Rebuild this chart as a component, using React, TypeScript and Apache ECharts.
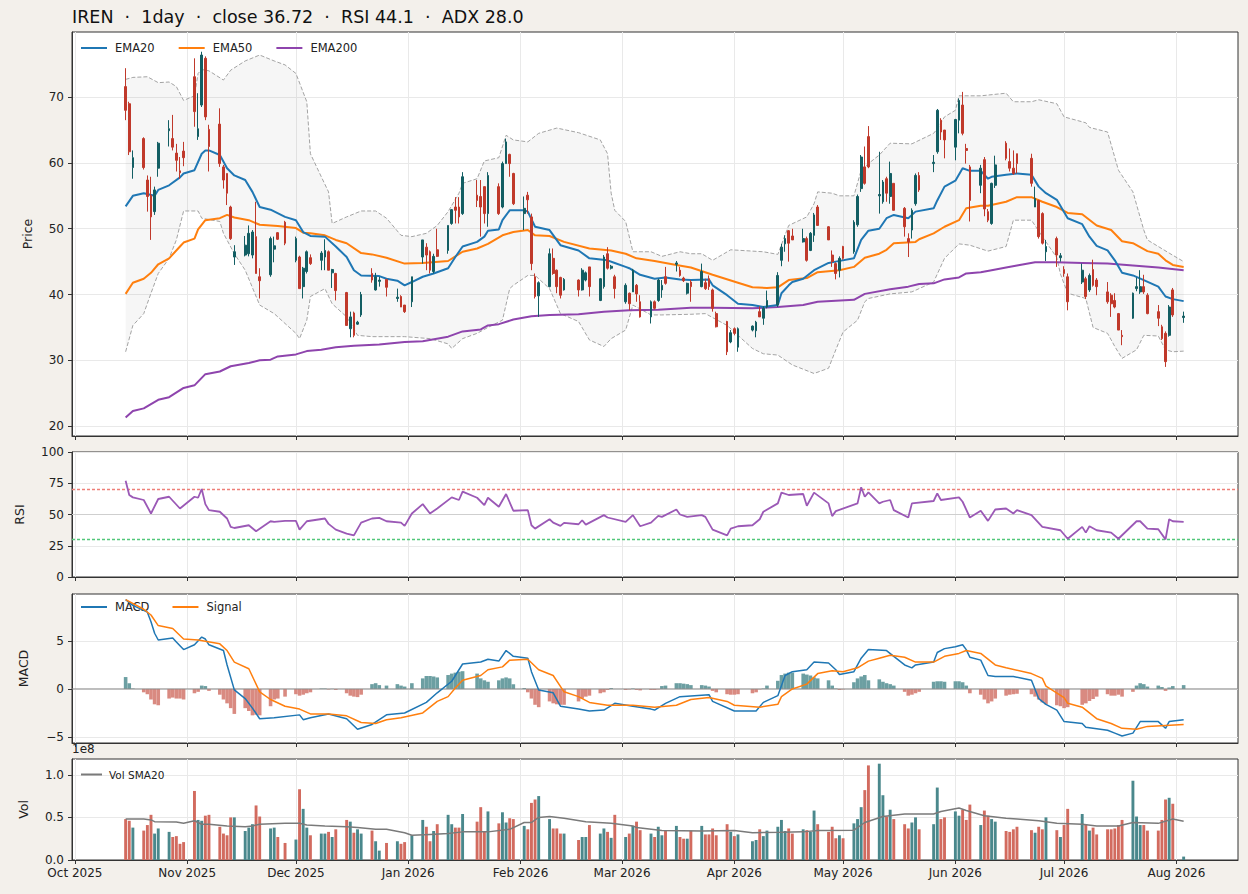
import React, { useEffect, useRef } from 'react';
import * as echarts from 'echarts';

// ---------------- data ----------------
const TITLE = 'IREN  \u00b7  1day  \u00b7  close 36.72  \u00b7  RSI 44.1  \u00b7  ADX 28.0';

const FIRST_DAY = '2025-10-15';
const LAST_DAY = '2026-08-03';
const HOLIDAYS = ['2025-11-27', '2025-12-25', '2026-01-01', '2026-01-19', '2026-02-16', '2026-04-03', '2026-05-25', '2026-06-19', '2026-07-03'];

const MONTH_TICKS = ['2025-10-01', '2025-11-01', '2025-12-01', '2026-01-01', '2026-02-01', '2026-03-01', '2026-04-01', '2026-05-01', '2026-06-01', '2026-07-01', '2026-08-01'];
const MONTH_LABELS = ['Oct 2025', 'Nov 2025', 'Dec 2025', 'Jan 2026', 'Feb 2026', 'Mar 2026', 'Apr 2026', 'May 2026', 'Jun 2026', 'Jul 2026', 'Aug 2026'];

const PRICE_TICKS = [20, 30, 40, 50, 60, 70];
const RSI_TICKS = [0, 25, 50, 75, 100];
const RSI_LEVELS = [70, 50, 30];
const MACD_TICKS = [-5, 0, 5];
const VOL_TICKS = [0, 0.5e8, 1e8];

const OPEN = [
  71.6, 69.0, 59.3, 63.7, 57.4, 55.1, 52.6, 59.2, 64.9, 63.7, 61.5, 58.8, 61.8,
  73.1, 64.0, 68.8, 75.9, 65.1, 65.9, 59.4, 58.4, 53.3, 45.7, 46.0, 46.2, 46.0, 48.8, 42.7, 43.0, 46.9, 49.4, 51.0,
  45.2, 45.7, 41.2, 43.5, 45.6, 45.2, 45.7, 46.5, 43.3, 43.2, 40.3, 34.8, 37.2, 35.5, 36.9, 43.2, 40.7, 42.0, 42.3, 39.4, 39.7, 38.4,
  38.9, 45.7, 47.2, 46.5, 43.5, 46.8, 46.7, 50.8, 53.3, 53.3, 52.3, 55.1, 54.9, 56.4, 52.3, 56.4, 53.3, 59.9, 61.3, 58.4,
  52.3, 55.1, 51.8, 42.7, 39.8, 41.2, 45.5, 43.7, 42.6, 40.7, 42.2, 40.7, 42.2, 44.2, 39.1, 41.2, 46.2, 44.0, 42.7,
  38.9, 40.2, 40.4, 41.4, 38.9, 36.6, 38.9, 39.1, 40.7, 42.7, 44.6, 43.7, 42.5, 40.2, 41.9, 41.2, 41.8, 42.4, 40.7, 37.1, 35.9, 32.8,
  34.8, 32.0, 34.6, 34.5, 37.4, 36.4, 38.1, 38.4, 45.2, 47.7, 49.7, 48.9, 48.0, 48.5, 46.7, 49.0, 53.3, 50.3, 46.0, 44.7, 43.7,
  47.3, 46.5, 50.6, 56.1, 59.4, 64.0, 55.0, 54.1, 57.6, 54.9, 56.9, 53.1, 48.5, 49.8, 53.8, 58.1, 59.9, 61.7, 66.5, 65.0,
  62.4, 66.5, 68.8, 62.2, 59.4, 56.6, 60.5, 52.6, 50.8, 56.6, 63.0, 60.2, 59.2, 61.4, 60.7, 53.3, 54.3, 52.3, 46.5, 48.5, 45.6,
  43.8, 42.7, 41.9, 42.4, 40.7, 43.8, 42.2, 40.4, 39.9, 39.1, 37.1, 33.8, 36.4, 40.9, 40.4, 41.2, 39.9, 37.4, 35.1, 34.1, 33.8, 40.7,
  36.5,
];
const HIGH = [
  74.4, 69.3, 61.9, 63.9, 58.1, 57.9, 56.4, 63.2, 66.5, 67.3, 62.9, 60.9, 63.2,
  75.9, 70.6, 76.9, 76.2, 65.8, 68.3, 59.7, 58.4, 53.5, 47.5, 48.9, 50.5, 49.8, 54.1, 44.0, 48.8, 48.8, 49.5, 51.2,
  48.8, 45.9, 44.2, 46.7, 46.1, 46.6, 48.4, 46.7, 43.9, 43.3, 40.4, 37.4, 37.4, 36.0, 40.4, 44.0, 43.3, 42.7, 42.3, 40.9, 39.9, 38.4,
  42.7, 48.3, 47.8, 46.7, 46.2, 50.0, 50.5, 53.0, 54.8, 54.8, 58.6, 57.4, 57.4, 56.4, 58.6, 56.9, 60.2, 63.7, 61.4, 58.5,
  54.9, 55.6, 52.3, 43.2, 42.0, 47.0, 47.0, 43.8, 42.7, 42.5, 42.3, 44.0, 43.5, 44.2, 42.5, 46.0, 47.2, 44.5, 43.0,
  41.7, 40.3, 43.9, 41.6, 39.9, 39.1, 39.1, 42.4, 42.2, 44.2, 45.1, 44.2, 42.7, 41.8, 42.2, 44.7, 42.4, 42.9, 40.9, 37.4, 36.0, 34.6,
  35.0, 35.0, 35.3, 36.0, 38.2, 38.2, 40.6, 43.4, 47.7, 49.0, 49.8, 50.0, 50.0, 48.8, 49.5, 52.4, 53.6, 50.4, 46.7, 44.9, 45.8,
  47.4, 51.3, 55.2, 61.2, 62.5, 65.6, 61.7, 57.4, 57.9, 60.2, 56.9, 53.3, 49.3, 53.1, 58.4, 58.6, 61.2, 68.2, 66.8, 65.0,
  66.7, 69.8, 70.8, 62.9, 59.7, 59.7, 60.9, 53.0, 57.0, 61.1, 63.3, 62.2, 61.9, 61.4, 61.4, 56.4, 54.4, 52.5, 48.3, 48.8, 46.3,
  44.3, 43.2, 44.7, 42.7, 43.2, 45.3, 42.5, 41.9, 40.2, 40.2, 37.2, 34.6, 40.3, 42.6, 43.7, 43.0, 40.2, 38.4, 35.4, 34.4, 38.4, 41.0,
  37.4,
];
const LOW = [
  66.5, 61.2, 57.6, 59.0, 52.6, 48.3, 52.1, 57.9, 62.5, 61.9, 58.7, 57.6, 59.5,
  65.5, 63.5, 68.5, 66.5, 58.7, 59.4, 56.1, 53.6, 48.3, 44.5, 45.8, 45.8, 45.5, 43.2, 39.4, 42.7, 44.9, 48.3, 47.5,
  44.9, 40.9, 39.4, 43.2, 44.5, 43.7, 43.7, 43.7, 41.0, 39.1, 35.3, 33.5, 33.5, 35.4, 36.6, 41.8, 40.6, 41.2, 39.7, 38.9, 38.1, 37.2,
  38.1, 44.7, 43.7, 43.2, 43.2, 45.7, 46.2, 50.6, 50.8, 50.8, 52.1, 53.3, 48.8, 50.8, 50.3, 52.1, 53.1, 59.9, 57.9, 53.6,
  49.8, 52.3, 43.7, 39.4, 36.6, 41.1, 43.0, 40.2, 39.4, 40.6, 39.7, 40.6, 42.0, 39.7, 39.0, 40.9, 43.8, 43.8, 39.4,
  38.6, 37.6, 40.4, 38.9, 36.5, 35.6, 37.7, 38.9, 39.5, 41.5, 43.5, 42.7, 41.9, 40.0, 38.9, 41.1, 40.7, 40.7, 37.4, 35.0, 30.8, 32.6,
  33.8, 31.3, 34.4, 33.5, 36.6, 35.4, 37.9, 38.1, 44.3, 46.5, 45.0, 48.3, 47.9, 45.0, 46.6, 48.0, 50.5, 48.3, 44.2, 42.3, 42.6,
  45.3, 46.2, 50.3, 55.6, 56.7, 59.2, 52.3, 53.8, 54.1, 53.8, 52.8, 48.8, 45.7, 48.5, 53.5, 55.6, 58.6, 61.4, 63.5, 60.7,
  60.4, 64.5, 64.2, 59.9, 51.1, 55.4, 51.9, 51.0, 50.6, 56.2, 60.4, 58.7, 58.2, 58.4, 56.4, 53.3, 48.5, 47.6, 45.1, 44.2, 45.0,
  42.7, 37.6, 41.6, 39.3, 40.4, 41.2, 39.9, 38.6, 36.6, 37.9, 34.6, 32.3, 36.3, 40.5, 40.1, 40.1, 37.0, 35.2, 33.1, 29.0, 33.6, 36.6,
  35.7,
];
const CLOSE = [
  68.0, 61.7, 60.8, 59.3, 54.9, 51.8, 55.9, 63.0, 65.2, 62.4, 60.4, 58.5, 60.8,
  67.8, 65.2, 76.4, 67.0, 62.5, 59.9, 57.4, 55.4, 48.5, 46.5, 47.5, 49.3, 49.5, 43.2, 42.1, 48.5, 47.4, 48.4, 47.8,
  48.5, 40.9, 44.0, 46.5, 44.7, 46.3, 46.7, 43.7, 43.8, 40.6, 35.3, 36.6, 33.8, 35.8, 40.0, 42.2, 42.7, 42.2, 41.1, 39.6, 38.1, 37.4,
  42.7, 48.3, 46.0, 43.7, 45.8, 45.8, 50.5, 52.9, 52.8, 51.8, 57.9, 54.3, 53.3, 52.3, 58.1, 52.3, 59.9, 63.2, 59.9, 53.8,
  53.1, 54.4, 44.7, 39.7, 41.8, 46.2, 43.2, 41.2, 39.9, 42.3, 40.7, 43.7, 43.3, 41.2, 42.4, 45.7, 44.0, 44.3, 40.9,
  41.4, 38.6, 43.7, 40.1, 36.6, 38.9, 37.9, 42.2, 41.4, 41.7, 44.8, 42.9, 42.1, 41.7, 41.2, 43.5, 40.9, 41.2, 37.9, 35.1, 31.3, 34.2,
  34.1, 34.8, 35.2, 35.8, 36.6, 37.9, 39.1, 42.9, 47.2, 48.5, 47.8, 48.3, 48.5, 45.2, 49.3, 52.1, 50.5, 48.3, 45.0, 43.2, 45.5,
  45.5, 51.0, 54.9, 60.9, 56.9, 59.4, 55.2, 57.1, 55.4, 58.4, 52.8, 50.3, 48.0, 52.8, 58.1, 55.9, 60.1, 68.0, 64.7, 63.5,
  66.6, 69.5, 64.5, 61.9, 54.3, 59.2, 53.0, 51.3, 56.9, 59.7, 60.7, 59.2, 58.4, 59.9, 56.9, 54.6, 48.8, 47.8, 47.3, 46.0, 45.9,
  43.2, 38.9, 43.7, 39.7, 42.9, 41.4, 41.2, 38.9, 38.6, 38.1, 34.6, 33.6, 40.2, 41.2, 41.2, 40.4, 37.1, 36.4, 33.3, 29.8, 38.1, 36.9,
  36.72,
];
// volume in millions of shares
const VOLUME_M = [
  48, 46, 38, 34.5, 41, 53, 31, 37, 33, 27, 28, 19, 21,
  81, 47, 46, 52, 53, 39, 31, 29, 50, 50, 34, 38, 42, 64, 51, 37, 38, 27, 20,
  24, 83, 60, 38, 29, 31, 31, 33, 27, 36, 47, 45, 32, 36, 31, 34.5, 22, 11, 20, 22, 19, 21,
  29, 47, 39, 22, 34, 42, 53, 42, 38, 38, 54, 45, 62, 33, 57, 43, 56, 44, 49, 48,
  40, 36, 67, 71, 75, 48, 37, 37, 31, 31, 23.5, 27, 27, 41, 31, 37, 33, 26, 53,
  27, 31, 40, 45, 35, 31, 27, 39, 29, 34.5, 40, 27, 25, 25, 34.5, 40, 30, 30, 37, 29, 42, 33,
  28, 30, 22, 23.5, 36, 28, 34.5, 39, 47, 34, 37, 31, 36, 35, 33, 58, 42, 33, 39, 25.5, 29,
  25.5, 43, 48, 62, 82, 111, 113, 76, 51, 59, 48, 42, 37, 44, 50, 36, 42, 85, 48, 50,
  57, 52, 59, 47, 65, 41, 58, 52, 48, 45, 34, 33, 36, 39, 35, 32, 39, 36, 50, 35, 27,
  41, 60, 54, 42, 34.5, 38, 30, 36, 36, 37, 41, 47, 93, 51, 41, 41, 34.5, 34.5, 47, 71, 73, 66,
  4,
];
const MACD_HIST = [
  1.24, 0.6, 0.05, -0.35, -0.55, -1.1, -1.6, -1.7, -1.0, -0.9, -1.0, -1.0, -1.1,
  -0.45, -0.3, 0.35, 0.3, -0.2, -0.6, -1.1, -1.5, -2.0, -2.6, -2.0, -2.3, -2.75, -2.7, -2.75, -1.8, -1.1, -1.0, -0.8,
  -0.55, -0.7, -0.6, -0.45, -0.35, 0.05, 0.05, -0.05, 0.02, -0.1, -0.45, -0.7, -0.8, -0.85, -0.6, 0.5, 0.6, 0.4, 0.35, 0.5, 0.35, 0.25,
  0.6, 1.1, 1.35, 1.35, 1.3, 1.2, 1.45, 1.6, 1.7, 1.8, 1.85, 1.6, 1.1, 0.9, 0.75, 0.9, 1.1, 1.2, 1.1, 0.5,
  0.1, -0.35, -1.0, -1.65, -1.9, -1.3, -1.5, -1.6, -1.65, -1.65, -1.3, -1.0, -0.8, -0.7, -0.45, -0.35, -0.1, 0.1, 0.0,
  -0.1, -0.05, 0.05, -0.1, -0.15, -0.1, -0.1, -0.05, 0.3, 0.35, 0.6, 0.6, 0.55, 0.5, 0.4, 0.4, 0.35, 0.25, -0.2, -0.35, -0.55, -0.6,
  -0.6, -0.55, -0.45, -0.35, -0.05, 0.05, 0.35, 0.85, 1.45, 1.6, 1.7, 1.7, 1.6, 1.5, 1.4, 1.2, 1.1, 0.9, 0.35, 0.05, -0.1,
  -0.05, 0.7, 1.1, 1.3, 1.45, 0.9, 1.0, 0.75, 0.6, 0.5, 0.35, -0.3, -0.7, -0.6, -0.45, -0.3, 0.75, 0.8, 0.8, 0.75,
  0.8, 0.8, 0.7, 0.35, -0.45, -0.6, -1.1, -1.5, -1.3, -1.0, -0.7, -0.6, -0.55, -0.5, -0.55, -0.8, -1.1, -1.4, -1.6, -1.7, -1.8,
  -2.0, -1.9, -1.65, -1.5, -1.25, -1.05, -0.8, -0.55, -0.7, -0.7, -0.6, -0.8, -0.3, 0.35, 0.6, 0.5, 0.25, 0.35, 0.2, -0.2, 0.15, 0.3,
  0.4,
];

type Pt = [string, number];

const EMA20: Pt[] = [["2025-10-15",53.4],["2025-10-17",55.0],["2025-10-20",55.4],["2025-10-23",55.0],["2025-10-24",55.9],["2025-10-27",56.6],["2025-10-30",57.8],["2025-10-31",58.4],["2025-11-03",58.9],["2025-11-05",61.4],["2025-11-06",61.9],["2025-11-07",61.9],["2025-11-10",61.2],["2025-11-12",59.2],["2025-11-14",58.1],["2025-11-17",57.4],["2025-11-19",55.6],["2025-11-21",53.3],["2025-11-24",52.9],["2025-11-28",51.8],["2025-12-01",51.3],["2025-12-03",49.5],["2025-12-05",48.9],["2025-12-09",48.8],["2025-12-12",47.3],["2025-12-15",45.7],["2025-12-17",43.7],["2025-12-19",42.9],["2025-12-24",42.8],["2025-12-26",42.4],["2025-12-29",42.1],["2025-12-31",41.4],["2026-01-02",41.9],["2026-01-05",42.7],["2026-01-08",43.2],["2026-01-12",44.0],["2026-01-14",45.7],["2026-01-16",47.3],["2026-01-20",48.0],["2026-01-22",48.8],["2026-01-23",49.7],["2026-01-26",49.9],["2026-01-27",51.3],["2026-01-29",52.8],["2026-02-02",52.8],["2026-02-03",52.6],["2026-02-05",50.3],["2026-02-09",49.8],["2026-02-12",47.5],["2026-02-17",46.7],["2026-02-20",45.5],["2026-02-25",45.2],["2026-02-27",44.8],["2026-03-02",44.2],["2026-03-03",44.0],["2026-03-06",43.0],["2026-03-10",42.4],["2026-03-13",42.6],["2026-03-17",42.3],["2026-03-20",42.2],["2026-03-25",42.3],["2026-03-26",41.4],["2026-03-30",39.9],["2026-04-02",38.6],["2026-04-06",38.4],["2026-04-09",38.1],["2026-04-13",38.4],["2026-04-14",40.2],["2026-04-16",41.4],["2026-04-17",41.9],["2026-04-20",42.4],["2026-04-23",43.7],["2026-04-27",44.8],["2026-04-29",45.0],["2026-05-04",45.5],["2026-05-06",48.3],["2026-05-08",49.7],["2026-05-11",50.0],["2026-05-13",51.6],["2026-05-15",52.1],["2026-05-19",51.6],["2026-05-21",52.6],["2026-05-26",53.1],["2026-05-27",54.3],["2026-05-29",56.4],["2026-06-01",57.3],["2026-06-03",59.2],["2026-06-05",58.8],["2026-06-08",58.8],["2026-06-10",57.6],["2026-06-11",57.9],["2026-06-15",58.2],["2026-06-18",58.4],["2026-06-22",58.2],["2026-06-24",56.4],["2026-06-26",55.4],["2026-06-29",54.4],["2026-07-02",51.6],["2026-07-06",50.7],["2026-07-08",48.8],["2026-07-10",47.4],["2026-07-13",46.7],["2026-07-15",45.2],["2026-07-17",43.3],["2026-07-20",42.9],["2026-07-23",42.2],["2026-07-27",41.2],["2026-07-29",39.7],["2026-07-31",39.3],["2026-08-03",39.0]];

const EMA50: Pt[] = [["2025-10-15",40.1],["2025-10-17",41.8],["2025-10-20",42.4],["2025-10-22",43.3],["2025-10-24",44.6],["2025-10-27",45.5],["2025-10-30",47.3],["2025-10-31",47.9],["2025-11-03",48.5],["2025-11-04",49.9],["2025-11-06",51.3],["2025-11-10",51.6],["2025-11-12",52.1],["2025-11-14",51.7],["2025-11-18",51.3],["2025-11-21",50.6],["2025-11-26",50.4],["2025-12-01",50.1],["2025-12-03",49.4],["2025-12-05",49.3],["2025-12-09",49.0],["2025-12-12",48.3],["2025-12-15",47.8],["2025-12-19",46.3],["2025-12-22",46.1],["2025-12-26",45.6],["2025-12-31",44.7],["2026-01-05",44.8],["2026-01-12",45.1],["2026-01-16",46.5],["2026-01-20",47.0],["2026-01-23",47.7],["2026-01-27",49.0],["2026-01-30",49.5],["2026-02-03",49.8],["2026-02-05",49.0],["2026-02-09",48.9],["2026-02-13",48.0],["2026-02-20",47.0],["2026-02-26",46.7],["2026-03-02",46.2],["2026-03-05",45.5],["2026-03-10",45.1],["2026-03-16",44.5],["2026-03-20",44.1],["2026-03-26",43.0],["2026-04-02",41.8],["2026-04-06",41.1],["2026-04-10",41.0],["2026-04-13",41.1],["2026-04-16",42.2],["2026-04-21",42.5],["2026-04-24",43.4],["2026-04-30",43.7],["2026-05-04",44.2],["2026-05-07",45.6],["2026-05-11",46.2],["2026-05-13",46.8],["2026-05-15",47.8],["2026-05-21",48.0],["2026-05-22",48.4],["2026-05-26",49.3],["2026-05-29",50.3],["2026-06-02",51.3],["2026-06-04",53.1],["2026-06-08",53.5],["2026-06-10",53.5],["2026-06-15",54.1],["2026-06-18",54.8],["2026-06-22",54.8],["2026-06-25",54.1],["2026-06-29",53.3],["2026-07-02",52.4],["2026-07-06",52.2],["2026-07-10",50.5],["2026-07-14",49.8],["2026-07-17",48.1],["2026-07-20",47.8],["2026-07-24",46.6],["2026-07-27",46.2],["2026-07-29",45.2],["2026-07-31",44.5],["2026-08-03",44.2]];

const EMA200: Pt[] = [["2025-10-15",21.3],["2025-10-17",22.3],["2025-10-20",22.7],["2025-10-24",24.0],["2025-10-27",24.4],["2025-10-31",25.8],["2025-11-03",26.2],["2025-11-06",27.9],["2025-11-10",28.3],["2025-11-13",29.1],["2025-11-18",29.6],["2025-11-21",30.0],["2025-11-24",30.1],["2025-11-26",30.6],["2025-12-01",30.9],["2025-12-04",31.4],["2025-12-08",31.6],["2025-12-12",32.0],["2025-12-17",32.2],["2025-12-24",32.4],["2025-12-31",32.8],["2026-01-05",32.9],["2026-01-12",33.6],["2026-01-16",34.4],["2026-01-21",34.7],["2026-01-23",35.3],["2026-01-26",35.5],["2026-01-30",36.2],["2026-02-04",36.7],["2026-02-09",36.9],["2026-02-17",37.0],["2026-02-24",37.4],["2026-03-03",37.6],["2026-03-11",37.7],["2026-03-20",38.0],["2026-03-26",38.0],["2026-04-06",37.9],["2026-04-13",38.1],["2026-04-20",38.4],["2026-04-24",38.9],["2026-05-04",39.2],["2026-05-07",40.1],["2026-05-14",40.8],["2026-05-19",41.2],["2026-05-22",41.6],["2026-05-26",41.7],["2026-05-29",42.3],["2026-06-02",42.6],["2026-06-04",43.2],["2026-06-08",43.4],["2026-06-11",43.7],["2026-06-15",44.1],["2026-06-18",44.4],["2026-06-23",44.9],["2026-06-29",44.9],["2026-07-06",44.8],["2026-07-13",44.7],["2026-07-20",44.4],["2026-07-27",44.1],["2026-08-03",43.7]];

const BB_UPPER: Pt[] = [["2025-10-15",72.7],["2025-10-17",73.0],["2025-10-21",73.1],["2025-10-24",72.2],["2025-10-27",72.3],["2025-10-29",71.6],["2025-10-31",69.5],["2025-11-03",70.2],["2025-11-04",73.6],["2025-11-05",74.2],["2025-11-07",74.0],["2025-11-11",72.6],["2025-11-13",74.1],["2025-11-17",75.5],["2025-11-21",76.4],["2025-11-25",75.5],["2025-11-28",74.9],["2025-12-01",73.6],["2025-12-04",69.3],["2025-12-05",61.4],["2025-12-08",57.9],["2025-12-10",55.6],["2025-12-11",50.8],["2025-12-15",51.8],["2025-12-19",52.7],["2025-12-23",52.7],["2025-12-26",51.6],["2025-12-30",49.0],["2026-01-02",48.8],["2026-01-06",49.3],["2026-01-09",50.5],["2026-01-12",52.6],["2026-01-15",55.4],["2026-01-16",56.9],["2026-01-20",57.6],["2026-01-22",60.3],["2026-01-26",60.8],["2026-01-28",64.2],["2026-01-30",63.5],["2026-02-03",63.2],["2026-02-06",64.5],["2026-02-11",65.3],["2026-02-17",64.6],["2026-02-23",63.5],["2026-02-25",61.4],["2026-02-26",55.4],["2026-02-27",52.8],["2026-03-02",51.1],["2026-03-04",46.5],["2026-03-09",46.5],["2026-03-12",45.8],["2026-03-17",46.5],["2026-03-20",46.2],["2026-03-23",46.2],["2026-03-26",45.2],["2026-03-31",46.8],["2026-04-09",46.5],["2026-04-13",46.1],["2026-04-16",50.5],["2026-04-21",51.8],["2026-04-23",53.8],["2026-04-24",55.6],["2026-04-28",55.4],["2026-04-30",55.0],["2026-05-04",55.0],["2026-05-06",58.9],["2026-05-08",59.9],["2026-05-11",61.2],["2026-05-14",63.0],["2026-05-20",62.9],["2026-05-26",64.5],["2026-05-27",65.2],["2026-05-29",67.0],["2026-06-01",68.0],["2026-06-02",70.2],["2026-06-08",70.2],["2026-06-15",70.6],["2026-06-17",69.3],["2026-06-22",69.3],["2026-06-24",69.6],["2026-06-29",69.0],["2026-07-01",67.0],["2026-07-07",66.1],["2026-07-08",65.4],["2026-07-13",64.7],["2026-07-16",58.9],["2026-07-20",55.6],["2026-07-23",49.8],["2026-07-24",48.3],["2026-07-27",47.3],["2026-07-30",46.3],["2026-08-03",45.0]];

const BB_LOWER: Pt[] = [["2025-10-15",31.3],["2025-10-17",35.3],["2025-10-20",37.1],["2025-10-22",40.2],["2025-10-24",43.2],["2025-10-27",45.5],["2025-10-29",48.3],["2025-10-31",52.7],["2025-11-04",52.7],["2025-11-05",51.6],["2025-11-10",51.1],["2025-11-11",49.3],["2025-11-14",46.2],["2025-11-17",43.7],["2025-11-21",38.4],["2025-11-25",37.1],["2025-11-28",35.6],["2025-12-01",34.1],["2025-12-02",33.3],["2025-12-04",36.1],["2025-12-05",39.7],["2025-12-09",40.9],["2025-12-11",38.6],["2025-12-15",36.6],["2025-12-18",33.8],["2025-12-22",33.6],["2025-12-31",33.6],["2026-01-07",33.3],["2026-01-12",32.5],["2026-01-13",31.8],["2026-01-16",33.3],["2026-01-20",34.1],["2026-01-23",35.0],["2026-01-27",36.1],["2026-01-29",40.9],["2026-01-30",41.4],["2026-02-03",42.9],["2026-02-05",42.9],["2026-02-09",40.9],["2026-02-12",37.1],["2026-02-17",35.9],["2026-02-20",33.1],["2026-02-24",32.1],["2026-02-26",33.3],["2026-03-02",34.6],["2026-03-04",38.4],["2026-03-09",36.9],["2026-03-12",36.9],["2026-03-20",37.0],["2026-03-24",37.1],["2026-03-30",35.3],["2026-04-06",31.8],["2026-04-09",31.0],["2026-04-13",30.8],["2026-04-17",29.3],["2026-04-23",28.0],["2026-04-27",28.8],["2026-04-29",31.6],["2026-05-01",34.3],["2026-05-05",36.1],["2026-05-07",38.9],["2026-05-08",39.4],["2026-05-14",40.1],["2026-05-20",40.4],["2026-05-26",41.9],["2026-05-29",45.5],["2026-06-02",47.7],["2026-06-05",47.5],["2026-06-10",46.6],["2026-06-15",47.3],["2026-06-17",51.3],["2026-06-22",51.3],["2026-06-25",48.8],["2026-06-29",45.6],["2026-06-30",43.1],["2026-07-02",40.2],["2026-07-07",39.4],["2026-07-09",35.0],["2026-07-13",34.1],["2026-07-15",32.1],["2026-07-17",30.3],["2026-07-21",31.6],["2026-07-23",33.8],["2026-07-27",33.7],["2026-07-29",31.6],["2026-07-31",31.3],["2026-08-03",31.4]];

const RSI: Pt[] = [["2025-10-15",77],["2025-10-16",65.6],["2025-10-17",63.7],["2025-10-20",61.6],["2025-10-22",50.8],["2025-10-24",62.4],["2025-10-27",64.2],["2025-10-30",54.8],["2025-11-03",64.2],["2025-11-04",63.4],["2025-11-05",70.4],["2025-11-06",58.3],["2025-11-07",53.5],["2025-11-10",52.2],["2025-11-12",46.8],["2025-11-13",40.1],["2025-11-14",39.2],["2025-11-18",41.4],["2025-11-20",36.6],["2025-11-24",44.6],["2025-11-25",44.1],["2025-11-28",44.9],["2025-12-01",44.9],["2025-12-02",37.9],["2025-12-04",44.6],["2025-12-09",46.8],["2025-12-10",42.5],["2025-12-12",37.9],["2025-12-15",34.7],["2025-12-17",33.3],["2025-12-19",43.5],["2025-12-22",46.8],["2025-12-24",47.3],["2025-12-26",44.6],["2025-12-30",43.5],["2025-12-31",40.9],["2026-01-02",50.8],["2026-01-05",58.3],["2026-01-07",50.8],["2026-01-09",54.8],["2026-01-13",63.7],["2026-01-15",61.6],["2026-01-16",68.3],["2026-01-20",63.4],["2026-01-22",57.5],["2026-01-23",63.4],["2026-01-26",56.2],["2026-01-28",66.4],["2026-01-30",53.0],["2026-02-03",53.5],["2026-02-04",41.4],["2026-02-05",38.7],["2026-02-09",46.2],["2026-02-10",43.5],["2026-02-12",40.9],["2026-02-13",43.3],["2026-02-17",42.2],["2026-02-18",45.4],["2026-02-19",41.9],["2026-02-24",49.5],["2026-02-25",47.6],["2026-03-02",44.1],["2026-03-04",49.5],["2026-03-06",40.6],["2026-03-09",43.5],["2026-03-11",48.9],["2026-03-12",48.1],["2026-03-16",54.0],["2026-03-17",50.0],["2026-03-19",48.1],["2026-03-23",49.5],["2026-03-24",48.1],["2026-03-26",37.9],["2026-03-30",33.3],["2026-03-31",38.7],["2026-04-02",40.6],["2026-04-06",41.4],["2026-04-08",46.2],["2026-04-09",52.2],["2026-04-13",58.9],["2026-04-14",67.5],["2026-04-16",65.6],["2026-04-20",66.4],["2026-04-21",57.0],["2026-04-23",67.5],["2026-04-27",58.9],["2026-04-28",48.7],["2026-04-29",52.7],["2026-05-05",58.9],["2026-05-06",71.8],["2026-05-07",64.2],["2026-05-08",67.7],["2026-05-11",58.9],["2026-05-12",60.2],["2026-05-14",61.6],["2026-05-15",53.5],["2026-05-19",47.6],["2026-05-20",58.9],["2026-05-26",60.8],["2026-05-27",66.9],["2026-05-28",61.6],["2026-06-02",63.7],["2026-06-03",60.2],["2026-06-05",47.6],["2026-06-08",53.0],["2026-06-10",44.9],["2026-06-12",54.0],["2026-06-15",54.8],["2026-06-17",50.8],["2026-06-18",53.5],["2026-06-22",49.5],["2026-06-25",40.1],["2026-06-30",37.4],["2026-07-02",30.6],["2026-07-06",40.1],["2026-07-07",35.5],["2026-07-08",40.6],["2026-07-10",37.4],["2026-07-14",35.5],["2026-07-16",30.6],["2026-07-21",44.6],["2026-07-22",44.6],["2026-07-24",38.7],["2026-07-27",38.2],["2026-07-29",30.1],["2026-07-30",46.2],["2026-07-31",44.6],["2026-08-03",44.1]];

const MACD: Pt[] = [["2025-10-15",9.3],["2025-10-17",8.7],["2025-10-21",8.0],["2025-10-22",7.0],["2025-10-23",5.8],["2025-10-24",5.1],["2025-10-28",5.3],["2025-10-29",4.9],["2025-10-31",4.1],["2025-11-03",4.6],["2025-11-05",5.4],["2025-11-06",5.2],["2025-11-07",4.6],["2025-11-11",4.0],["2025-11-12",2.5],["2025-11-14",-0.1],["2025-11-17",-1.0],["2025-11-19",-2.0],["2025-11-21",-3.1],["2025-11-25",-3.0],["2025-12-02",-2.7],["2025-12-03",-3.2],["2025-12-05",-3.0],["2025-12-10",-2.6],["2025-12-15",-3.1],["2025-12-18",-4.2],["2025-12-22",-3.7],["2025-12-26",-2.7],["2025-12-31",-2.5],["2026-01-06",-1.4],["2026-01-09",-0.4],["2026-01-13",0.8],["2026-01-16",2.6],["2026-01-21",2.8],["2026-01-23",3.1],["2026-01-26",2.9],["2026-01-28",4.0],["2026-01-30",3.4],["2026-02-03",3.2],["2026-02-04",1.8],["2026-02-06",-0.1],["2026-02-10",-0.4],["2026-02-12",-1.8],["2026-02-17",-2.1],["2026-02-20",-2.3],["2026-02-24",-2.2],["2026-02-27",-1.5],["2026-03-04",-1.8],["2026-03-09",-2.1],["2026-03-10",-2.2],["2026-03-13",-1.5],["2026-03-17",-0.8],["2026-03-25",-0.6],["2026-03-26",-1.3],["2026-04-01",-2.3],["2026-04-07",-2.3],["2026-04-09",-1.4],["2026-04-13",-0.7],["2026-04-15",1.4],["2026-04-17",1.8],["2026-04-21",2.0],["2026-04-23",2.8],["2026-04-27",2.7],["2026-04-29",2.0],["2026-04-30",1.5],["2026-05-04",1.8],["2026-05-06",3.2],["2026-05-08",4.1],["2026-05-13",4.0],["2026-05-15",3.4],["2026-05-18",2.5],["2026-05-20",2.2],["2026-05-21",2.5],["2026-05-26",2.8],["2026-05-27",3.8],["2026-05-29",4.2],["2026-06-01",4.4],["2026-06-03",4.6],["2026-06-04",4.1],["2026-06-05",3.3],["2026-06-08",3.0],["2026-06-10",1.4],["2026-06-12",1.3],["2026-06-17",1.3],["2026-06-22",0.9],["2026-06-24",-1.0],["2026-06-26",-1.6],["2026-06-29",-2.2],["2026-07-01",-3.4],["2026-07-06",-3.6],["2026-07-07",-4.0],["2026-07-13",-4.3],["2026-07-15",-4.6],["2026-07-17",-4.9],["2026-07-20",-4.6],["2026-07-22",-3.4],["2026-07-27",-3.4],["2026-07-29",-4.1],["2026-07-30",-3.4],["2026-08-03",-3.2]];

const SIGNAL: Pt[] = [["2025-10-15",9.3],["2025-10-20",8.3],["2025-10-22",7.7],["2025-10-24",6.6],["2025-10-28",6.3],["2025-10-31",5.2],["2025-11-04",5.1],["2025-11-10",4.7],["2025-11-12",4.0],["2025-11-14",2.8],["2025-11-18",2.1],["2025-11-21",-0.3],["2025-11-24",-1.1],["2025-11-28",-1.8],["2025-12-02",-2.1],["2025-12-05",-2.6],["2025-12-10",-2.6],["2025-12-15",-2.8],["2025-12-19",-3.5],["2025-12-23",-3.6],["2025-12-26",-3.2],["2025-12-30",-3.0],["2026-01-05",-2.5],["2026-01-09",-1.3],["2026-01-12",-0.8],["2026-01-14",0.1],["2026-01-16",0.9],["2026-01-21",1.4],["2026-01-23",2.0],["2026-01-27",2.3],["2026-01-29",3.0],["2026-02-03",3.1],["2026-02-06",2.0],["2026-02-10",1.4],["2026-02-13",-0.3],["2026-02-17",-0.8],["2026-02-20",-1.4],["2026-02-25",-1.7],["2026-03-04",-1.7],["2026-03-10",-1.9],["2026-03-16",-1.7],["2026-03-20",-1.1],["2026-03-25",-0.9],["2026-03-30",-1.3],["2026-04-01",-1.7],["2026-04-08",-1.9],["2026-04-13",-1.6],["2026-04-14",-0.8],["2026-04-17",0.0],["2026-04-21",0.5],["2026-04-24",1.6],["2026-04-28",1.9],["2026-05-01",1.8],["2026-05-05",2.2],["2026-05-08",2.9],["2026-05-11",3.2],["2026-05-14",3.5],["2026-05-18",3.3],["2026-05-21",2.8],["2026-05-26",2.8],["2026-05-29",3.4],["2026-06-02",3.7],["2026-06-04",4.0],["2026-06-08",3.7],["2026-06-12",2.5],["2026-06-15",2.2],["2026-06-22",1.6],["2026-06-25",1.1],["2026-06-26",0.3],["2026-07-01",-0.9],["2026-07-02",-1.5],["2026-07-06",-1.9],["2026-07-10",-3.1],["2026-07-14",-3.6],["2026-07-17",-4.1],["2026-07-21",-4.2],["2026-07-24",-3.9],["2026-07-29",-3.8],["2026-08-03",-3.7]];

// volume 20-day SMA in millions
const VOL_SMA20_M: Pt[] = [["2025-10-15",48],["2025-10-20",48],["2025-10-22",47],["2025-10-23",45],["2025-10-29",44.5],["2025-10-31",43],["2025-11-03",46],["2025-11-05",42],["2025-11-07",42],["2025-11-12",40],["2025-11-17",39],["2025-11-19",40],["2025-11-21",42],["2025-11-28",43],["2025-12-02",43],["2025-12-04",41],["2025-12-09",40],["2025-12-15",39],["2025-12-18",38],["2025-12-23",36],["2025-12-26",36],["2025-12-31",32],["2026-01-02",29],["2026-01-07",30],["2026-01-12",31],["2026-01-16",33],["2026-01-23",33],["2026-01-29",36],["2026-02-02",44],["2026-02-04",44],["2026-02-06",50],["2026-02-09",51],["2026-02-13",49],["2026-02-19",45],["2026-02-26",43],["2026-03-04",40],["2026-03-05",38],["2026-03-12",34.5],["2026-03-23",34],["2026-04-01",34.5],["2026-04-06",32],["2026-04-14",32.5],["2026-04-20",33],["2026-04-24",34.5],["2026-05-04",35],["2026-05-07",44],["2026-05-12",51],["2026-05-18",54],["2026-05-26",54],["2026-05-28",57],["2026-06-02",61],["2026-06-04",58],["2026-06-09",52],["2026-06-15",49],["2026-06-18",48],["2026-06-24",46],["2026-06-29",43],["2026-07-06",42],["2026-07-10",40],["2026-07-16",40],["2026-07-20",44],["2026-07-27",43],["2026-07-31",48],["2026-08-03",45.5]];

// ---------------- helpers ----------------
const DAY_MS = 86400000;
const EPOCH = Date.UTC(2025, 9, 1);
const dayNum = (s: string): number => {
  const [y, m, d] = s.split('-').map(Number);
  return Math.round((Date.UTC(y, m - 1, d) - EPOCH) / DAY_MS);
};
function tradingDays(start: string, end: string, holidays: string[]): string[] {
  const out: string[] = [];
  let t = EPOCH + dayNum(start) * DAY_MS;
  const tEnd = EPOCH + dayNum(end) * DAY_MS;
  while (t <= tEnd) {
    const dt = new Date(t);
    const wd = dt.getUTCDay();
    const iso = dt.toISOString().slice(0, 10);
    if (wd !== 0 && wd !== 6 && holidays.indexOf(iso) < 0) out.push(iso);
    t += DAY_MS;
  }
  return out;
}
const toXY = (arr: Pt[], k = 1) => arr.map(([s, v]) => [dayNum(s), v * k]);

const UP = '#135e63';
const DOWN = '#c0392b';
const VOL_UP = '#4a888c';
const VOL_DOWN = '#d26b5f';
const HIST_UP = '#6c9fa2';
const HIST_DOWN = '#d98a81';
const FONT = 'DejaVu Sans';
const GRID_LINE = '#e9e9e9';
const AXIS_C = '#333333';
const X_MIN = -0.8;
const X_MAX = 321.0;

function buildOption() {
  const dates = tradingDays(FIRST_DAY, LAST_DAY, HOLIDAYS);
  const xs = dates.map(dayNum);
  const monthVals = MONTH_TICKS.map(dayNum);

  const candles = xs.map((x, i) => [x, OPEN[i], CLOSE[i], LOW[i], HIGH[i]]);
  const volumes = xs.map((x, i) => ({
    value: [x, VOLUME_M[i] * 1e6],
    itemStyle: { color: CLOSE[i] >= OPEN[i] ? VOL_UP : VOL_DOWN },
  }));
  const hist = xs.map((x, i) => ({
    value: [x, MACD_HIST[i]],
    itemStyle: { color: MACD_HIST[i] >= 0 ? HIST_UP : HIST_DOWN },
  }));
  const upperXY = toXY(BB_UPPER);
  const lowerXY = toXY(BB_LOWER);

  const grids = [
    { top: 32, height: 404 },
    { top: 452, height: 125 },
    { top: 594, height: 149 },
    { top: 759, height: 101 },
  ].map((g) => ({
    left: 72, width: 1166, top: g.top, height: g.height,
    show: true, backgroundColor: '#ffffff', borderColor: AXIS_C, borderWidth: 1,
  }));

  const xAxes = [0, 1, 2, 3].map((i) => ({
    type: 'value', gridIndex: i, min: X_MIN, max: X_MAX,
    axisLine: { show: true, onZero: false, lineStyle: { color: AXIS_C, width: 1 } },
    axisTick: { show: true, customValues: monthVals, length: 4, lineStyle: { color: AXIS_C } },
    axisLabel: {
      show: i === 3, customValues: monthVals, margin: 7, fontSize: 12, color: '#222', fontFamily: FONT,
      formatter: (v: number) => {
        const k = monthVals.indexOf(Math.round(v));
        return k >= 0 ? MONTH_LABELS[k] : '';
      },
    },
    splitLine: { show: true, lineStyle: { color: GRID_LINE, width: 1 } },
  }));

  const yBase = (i: number, min: number, max: number, ticks: number[], name: string, gap: number, fmt: (v: number) => string) => ({
    type: 'value', gridIndex: i, min, max,
    name, nameLocation: 'middle', nameGap: gap,
    nameTextStyle: { fontSize: 12.5, color: '#222', fontFamily: FONT },
    axisLine: { show: true, onZero: false, lineStyle: { color: AXIS_C, width: 1 } },
    axisTick: { show: true, customValues: ticks, length: 4, lineStyle: { color: AXIS_C } },
    axisLabel: { customValues: ticks, margin: 8, fontSize: 12, color: '#222', fontFamily: FONT, formatter: fmt },
    splitLine: { show: true, lineStyle: { color: GRID_LINE, width: 1 } },
  });
  const minusFmt = (v: number) => (v < 0 ? '\u2212' + Math.abs(v) : String(v));
  const yAxes = [
    yBase(0, 18.5, 79.9, PRICE_TICKS, 'Price', 38, (v) => String(v)),
    yBase(1, 0, 100, RSI_TICKS, 'RSI', 46, (v) => String(v)),
    yBase(2, -5.63, 9.89, MACD_TICKS, 'MACD', 42, minusFmt),
    yBase(3, 0, 1.185e8, VOL_TICKS, 'Vol', 42, (v) => (v / 1e8).toFixed(1)),
  ];

  const line = (name: string, data: number[][], color: string, width: number, xi: number, extra: any = {}) => ({
    type: 'line', name, xAxisIndex: xi, yAxisIndex: xi, data,
    showSymbol: false, symbol: 'none', smooth: false, silent: true,
    lineStyle: { color, width }, itemStyle: { color }, z: 4,
    ...extra,
  });
  const hLine = (name: string, xi: number, y: number, color: string, type: any, width: number, z: number) =>
    line(name, [[X_MIN, y], [X_MAX, y]], color, width, xi, { lineStyle: { color, width, type }, z });

  const legendCommon = {
    icon: 'rect', itemHeight: 2, padding: 0, selectedMode: false,
    textStyle: { fontSize: 11.5, color: '#222', fontFamily: FONT, padding: [0, 0, 0, 3] },
  };

  return {
    animation: false,
    backgroundColor: '#f3f0eb',
    textStyle: { fontFamily: FONT },
    grid: grids,
    xAxis: xAxes,
    yAxis: yAxes,
    legend: [
      { ...legendCommon, data: ['EMA20', 'EMA50', 'EMA200'], left: 81, top: 42, itemWidth: 26, itemGap: 24 },
      { ...legendCommon, data: ['MACD', 'Signal'], left: 81, top: 601, itemWidth: 26, itemGap: 23 },
      { ...legendCommon, data: ['Vol SMA20'], left: 81, top: 769, itemWidth: 21, textStyle: { fontSize: 10.5, color: '#222', fontFamily: FONT, padding: [0, 0, 0, 2] } },
    ],
    graphic: [
      { type: 'text', x: 72, y: 17, style: { text: TITLE, fontSize: 17.5, fontFamily: FONT, fill: '#111', align: 'left', verticalAlign: 'middle' } },
      { type: 'text', x: 72, y: 749, style: { text: '1e8', fontSize: 12, fontFamily: FONT, fill: '#222', align: 'left', verticalAlign: 'middle' } },
    ],
    series: [
      {
        type: 'custom', name: 'BB fill', xAxisIndex: 0, yAxisIndex: 0, silent: true, z: 1,
        data: [[upperXY[0][0], upperXY[0][1]]],
        renderItem: (_p: any, api: any) => {
          const pts = upperXY.map((p) => api.coord(p)).concat(lowerXY.slice().reverse().map((p) => api.coord(p)));
          return { type: 'polygon', shape: { points: pts }, style: { fill: 'rgba(128,128,128,0.07)', stroke: 'none' } };
        },
      },
      line('BB upper', upperXY, '#a3a3a3', 1, 0, { lineStyle: { color: '#a3a3a3', width: 1, type: [4, 2] }, z: 2 }),
      line('BB lower', lowerXY, '#a3a3a3', 1, 0, { lineStyle: { color: '#a3a3a3', width: 1, type: [4, 2] }, z: 2 }),
      line('EMA200', toXY(EMA200), '#8e44ad', 2, 0),
      line('EMA50', toXY(EMA50), '#ff7f0e', 2, 0),
      line('EMA20', toXY(EMA20), '#1f77b4', 2, 0),
      {
        type: 'candlestick', name: 'OHLC', xAxisIndex: 0, yAxisIndex: 0, silent: true, z: 5,
        data: candles,
        encode: { x: 0, y: [1, 2, 3, 4] },
        barWidth: 2.2,
        itemStyle: { color: UP, color0: DOWN, borderColor: UP, borderColor0: DOWN, borderWidth: 1 },
      },
      hLine('RSI 70', 1, RSI_LEVELS[0], '#ee7f78', [3, 2], 1.3, 2),
      hLine('RSI 50', 1, RSI_LEVELS[1], '#cfcfcf', 'solid', 1, 2),
      hLine('RSI 30', 1, RSI_LEVELS[2], '#52c77a', [3, 2], 1.3, 2),
      line('RSI', toXY(RSI), '#9b59b6', 1.8, 1),
      {
        type: 'bar', name: 'Hist', xAxisIndex: 2, yAxisIndex: 2, silent: true, z: 2,
        data: hist, barWidth: 3.6,
      },
      hLine('Zero', 2, 0, '#8a8a8a', 'solid', 1, 3),
      line('MACD', toXY(MACD), '#1f77b4', 1.5, 2),
      line('Signal', toXY(SIGNAL), '#ff7f0e', 1.5, 2),
      {
        type: 'bar', name: 'Volume', xAxisIndex: 3, yAxisIndex: 3, silent: true, z: 2,
        data: volumes, barWidth: 2.9,
      },
      line('Vol SMA20', toXY(VOL_SMA20_M, 1e6), '#7a7a7a', 1.5, 3),
    ],
  };
}

export default function App() {
  const ref = useRef<HTMLDivElement>(null);
  useEffect(() => {
    if (!ref.current) return;
    const chart = echarts.init(ref.current, undefined, { renderer: 'svg' });
    chart.setOption(buildOption() as any);
    return () => chart.dispose();
  }, []);
  return <div ref={ref} style={{ position: 'fixed', left: 0, top: 0, width: 1248, height: 894 }} />;
}
